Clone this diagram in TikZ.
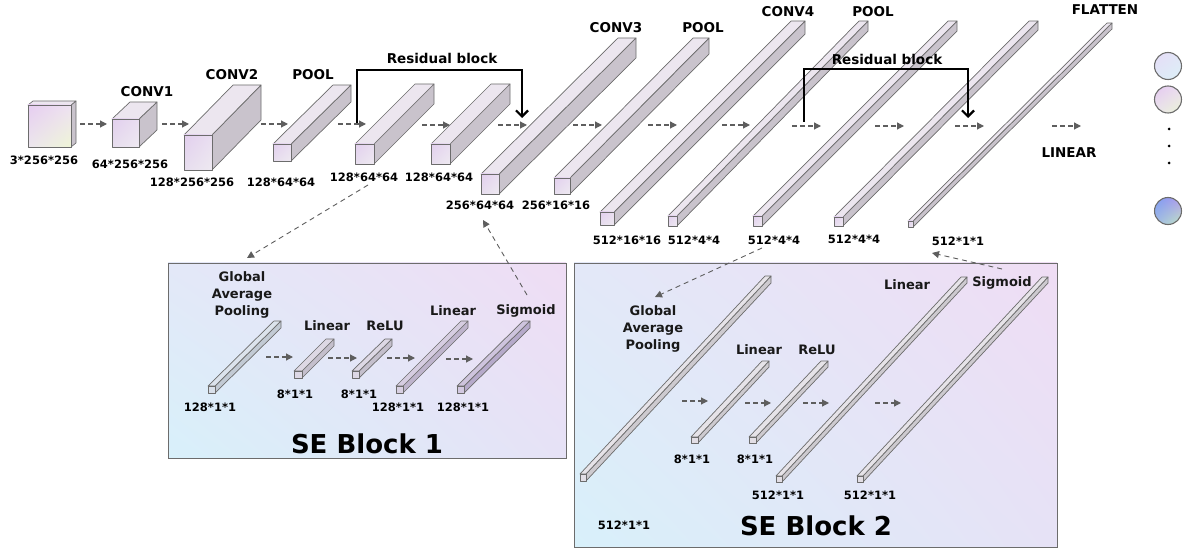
\documentclass[tikz,border=0pt]{standalone}
\usepackage{fontspec}
\setmainfont{DejaVu Sans}
\usetikzlibrary{arrows.meta,shadings}

\definecolor{edge}{HTML}{6C6C6C}
\definecolor{flowgray}{HTML}{5E5E5E}
\definecolor{topc}{HTML}{ECE6EF}
\definecolor{sidec}{HTML}{C9C3CC}
\definecolor{gapfront}{HTML}{D9E0EA}
\definecolor{gaptop}{HTML}{DCE3EC}
\definecolor{gapside}{HTML}{C2CAD4}
\definecolor{linfront}{HTML}{DDD8E5}
\definecolor{lintop}{HTML}{DDD8E4}
\definecolor{linside}{HTML}{C4BFCC}
\definecolor{purfront}{HTML}{D8D0E2}
\definecolor{purtop}{HTML}{D6CDE1}
\definecolor{purside}{HTML}{BEB4CC}
\definecolor{sigfront}{HTML}{D2C8E0}
\definecolor{sigtop}{HTML}{CEC4DD}
\definecolor{sigside}{HTML}{B6AACA}
\definecolor{greyfront}{HTML}{E2DEE5}
\definecolor{greytop}{HTML}{E6E3E8}
\definecolor{greyside}{HTML}{CDCACF}
% corner colours of the shaded faces
\definecolor{inUL}{HTML}{E6CDF0}
\definecolor{inUR}{HTML}{EEE2F2}
\definecolor{inLL}{HTML}{ECE6EE}
\definecolor{inLR}{HTML}{EEF5D6}
\definecolor{lavUL}{HTML}{E2CFEE}
\definecolor{lavUR}{HTML}{E9DEF0}
\definecolor{lavLL}{HTML}{E7DEEE}
\definecolor{lavLR}{HTML}{EEE9F1}
\definecolor{bgUL}{HTML}{E3E8F8}
\definecolor{bgUR}{HTML}{EFDDF4}
\definecolor{bgLL}{HTML}{D8F0FA}
\definecolor{bgLR}{HTML}{E6E2F6}
\definecolor{oaUL}{HTML}{E6DCF6}
\definecolor{oaUR}{HTML}{E2E6F8}
\definecolor{oaLL}{HTML}{DEE8F8}
\definecolor{oaLR}{HTML}{DCF0F6}
\definecolor{obUL}{HTML}{E4C8F0}
\definecolor{obUR}{HTML}{ECDDF2}
\definecolor{obLL}{HTML}{EAE4EC}
\definecolor{obLR}{HTML}{EAF4D4}
\definecolor{ocUL}{HTML}{7C9EF2}
\definecolor{ocUR}{HTML}{B49AEC}
\definecolor{ocLL}{HTML}{A2B8E6}
\definecolor{ocLR}{HTML}{BDE6C2}

\tikzset{
  facet/.style={draw=edge, line width=0.7pt, line join=round},
  corners/.style n args={4}{upper left=#1, upper right=#2, lower left=#3, lower right=#4},
  frontIn/.style={corners={inUL}{inUR}{inLL}{inLR}},
  frontLav/.style={corners={lavUL}{lavUR}{lavLL}{lavLR}},
  flatfront/.style={corners={#1}{#1}{#1}{#1}},
  lbl/.style={font=\bfseries\fontsize{13.5}{15}\selectfont, inner sep=0pt},
  dim/.style={font=\bfseries\fontsize{11.5}{13}\selectfont, inner sep=0pt},
  selbl/.style={font=\bfseries\fontsize{13}{17}\selectfont, inner sep=0pt, align=center, text=black!90},
  title/.style={font=\bfseries\fontsize{26}{28}\selectfont, inner sep=0pt},
  flow/.style={draw=flowgray, line width=1.2pt, dash pattern=on 4.5pt off 3.5pt, -{Triangle[length=7pt,width=7pt]}},
  skip/.style={draw=black, line width=2.2pt, line join=miter, -{Straight Barb[length=6pt,width=12pt]}},
  link/.style={draw=flowgray, line width=0.9pt, dash pattern=on 5pt off 4pt, -{Triangle[length=7pt,width=7pt]}},
  dot/.style={circle, fill=black, inner sep=0pt, minimum size=3pt},
}

% cuboid: front face (#1,#2)-(#3,#4), depth offset #5 right and #6 up,
% #7 front shading style, #8 top colour, #9 side colour
\newcommand\prism[9]{%
  \filldraw[fill=#9, facet] (#3,#2) -- (#3+#5,#2-#6) -- (#3+#5,#4-#6) -- (#3,#4) -- cycle;
  \filldraw[fill=#8, facet] (#1,#2) -- (#1+#5,#2-#6) -- (#3+#5,#2-#6) -- (#3,#2) -- cycle;
  \shade[#7] (#1,#2) rectangle (#3,#4);
  \draw[facet] (#1,#2) rectangle (#3,#4);
}

\begin{document}
\begin{tikzpicture}[x=1pt, y=-1pt]
\useasboundingbox (0,0) rectangle (1184,548);

% ---------- main network ----------
\prism{28}{105}{71}{147}{5}{4}{frontIn}{topc}{sidec}
\prism{112}{119}{139}{147}{18}{17}{frontLav}{topc}{sidec}
\prism{184}{135}{212}{170}{49}{50}{frontLav}{topc}{sidec}
\prism{273}{144}{291}{161}{60}{59}{frontLav}{topc}{sidec}
\prism{355}{144}{374}{164}{60}{60}{frontLav}{topc}{sidec}
\prism{431}{144}{450}{164}{60}{60}{frontLav}{topc}{sidec}
\prism{481}{174}{499}{194}{137}{136}{frontLav}{topc}{sidec}
\prism{554}{178}{570}{194}{139}{140}{frontLav}{topc}{sidec}
\prism{600}{212}{614}{225}{191}{191}{frontLav}{topc}{sidec}
\prism{668}{216}{677}{226}{191}{195}{frontLav}{topc}{sidec}
\prism{753}{216}{762}{226}{195}{195}{frontLav}{topc}{sidec}
\prism{834}{217}{843}{226}{195}{196}{frontLav}{topc}{sidec}
\prism{908}{221}{913}{227}{199}{198}{frontLav}{topc}{sidec}

% flow arrows between the stages
\foreach \i/\xa/\xb/\yy in {1/80/107/124, 2/162/189/124, 3/261/288/124, 4/338/366/124,
    5/422/450/125, 6/498/527/125, 7/573/602/125, 8/648/677/125, 9/722/750/125,
    10/792/821/126, 11/875/904/126, 12/955/984/126, 13/1052/1081/126} {
  \coordinate (f\i s) at (\xa,\yy);
  \coordinate (f\i e) at (\xb,\yy);
  \draw[flow] (f\i s) -- (f\i e);
}

% layer names
\node[lbl] (nconv1) at (147,92) {CONV1};
\node[lbl] (nconv2) at (232,75) {CONV2};
\node[lbl] (npool1) at (313,75) {POOL};
\node[lbl] (nconv3) at (616,28) {CONV3};
\node[lbl] (npool2) at (703,28) {POOL};
\node[lbl] (nconv4) at (788,12) {CONV4};
\node[lbl] (npool3) at (873,12) {POOL};
\node[lbl] (nflat) at (1105,10) {FLATTEN};
\node[lbl] (nlin) at (1069,153) {LINEAR};

% tensor sizes
\node[dim] (d1) at (44,160) {3*256*256};
\node[dim] (d2) at (130,164) {64*256*256};
\node[dim] (d3) at (192,182) {128*256*256};
\node[dim] (d4) at (281,182) {128*64*64};
\node[dim] (d5) at (364,177) {128*64*64};
\node[dim] (d6) at (439,177) {128*64*64};
\node[dim] (d7) at (480,205) {256*64*64};
\node[dim] (d8) at (556,205) {256*16*16};
\node[dim] (d9) at (627,240) {512*16*16};
\node[dim] (d10) at (694,240) {512*4*4};
\node[dim] (d11) at (774,240) {512*4*4};
\node[dim] (d12) at (854,239) {512*4*4};
\node[dim] (d13) at (958,241) {512*1*1};

% residual shortcuts
\coordinate (r1a) at (357,123);
\coordinate (r1b) at (522,118);
\draw[skip] (r1a) |- (440,70) -| (r1b);
\node[lbl] (nres1) at (442,58) {Residual block};
\coordinate (r2a) at (804,122);
\coordinate (r2b) at (968,118);
\draw[skip] (r2a) |- (886,69) -| (r2b);
\node[lbl] (nres2) at (887,59) {Residual block};

% output units
\shade[corners={oaUL}{oaUR}{oaLL}{oaLR}] (1168,66) circle[radius=13.5pt];
\draw[facet, line width=1.1pt] (1168,66) circle[radius=13.5pt] node (o1) {};
\shade[corners={obUL}{obUR}{obLL}{obLR}] (1168,99.5) circle[radius=13.5pt];
\draw[facet, line width=1.1pt] (1168,99.5) circle[radius=13.5pt] node (o2) {};
\node[dot] (p1) at (1169,129) {};
\node[dot] (p2) at (1169,146) {};
\node[dot] (p3) at (1169,163) {};
\shade[corners={ocUL}{ocUR}{ocLL}{ocLR}] (1168,211) circle[radius=13.5pt];
\draw[facet, line width=1.1pt] (1168,211) circle[radius=13.5pt] node (o3) {};

% ---------- SE block 1 ----------
\shade[corners={bgUL}{bgUR}{bgLL}{bgLR}] (168,263) rectangle (566,458);
\draw[draw=edge, line width=0.9pt] (168,263) rectangle (566,458);

\prism{208}{386}{215}{393}{66}{65}{flatfront=gapfront}{gaptop}{gapside}
\prism{294}{371}{302}{378}{32}{32}{flatfront=linfront}{lintop}{linside}
\prism{352}{371}{359}{378}{33}{32}{flatfront=linfront}{lintop}{linside}
\prism{396}{386}{403}{393}{65}{65}{flatfront=purfront}{purtop}{purside}
\prism{457}{386}{464}{393}{66}{65}{flatfront=sigfront}{sigtop}{sigside}

\foreach \i/\xa/\xb/\yy in {1/266/293/357, 2/328/357/358, 3/387/415/358, 4/446/473/359} {
  \coordinate (s\i s) at (\xa,\yy);
  \coordinate (s\i e) at (\xb,\yy);
  \draw[flow] (s\i s) -- (s\i e);
}

\node[selbl] (ga1) at (242,295) {Global\\Average\\Pooling};
\node[selbl] (li1) at (327,326) {Linear};
\node[selbl] (re1) at (385,326) {ReLU};
\node[selbl] (lj1) at (453,311) {Linear};
\node[selbl] (sg1) at (526,311) {Sigmoid};
\node[dim] (e1) at (210,407) {128*1*1};
\node[dim] (e2) at (295,394) {8*1*1};
\node[dim] (e3) at (359,394) {8*1*1};
\node[dim] (e4) at (398,407) {128*1*1};
\node[dim] (e5) at (463,407) {128*1*1};
\node[title] (t1) at (367,444) {SE Block 1};

% ---------- SE block 2 ----------
\shade[corners={bgUL}{bgUR}{bgLL}{bgLR}] (574,263) rectangle (1057,547);
\draw[draw=edge, line width=0.9pt] (574,263) rectangle (1057,547);

\prism{580}{474}{586}{481}{185}{198}{flatfront=greyfront}{greytop}{greyside}
\prism{691}{437}{698}{443}{71}{76}{flatfront=greyfront}{greytop}{greyside}
\prism{749}{437}{756}{443}{72}{76}{flatfront=greyfront}{greytop}{greyside}
\prism{776}{476}{782}{482}{185}{199}{flatfront=greyfront}{greytop}{greyside}
\prism{857}{476}{863}{482}{185}{199}{flatfront=greyfront}{greytop}{greyside}

\foreach \i/\xa/\xb/\yy in {1/682/708/401, 2/745/771/403, 3/803/829/403, 4/875/901/403} {
  \coordinate (u\i s) at (\xa,\yy);
  \coordinate (u\i e) at (\xb,\yy);
  \draw[flow] (u\i s) -- (u\i e);
}

\node[selbl] (ga2) at (653,329) {Global\\Average\\Pooling};
\node[selbl] (li2) at (759,350) {Linear};
\node[selbl] (re2) at (817,350) {ReLU};
\node[selbl] (lj2) at (907,285) {Linear};
\node[selbl] (sg2) at (1002,283) {Sigmoid};
\node[dim] (g1) at (624,525) {512*1*1};
\node[dim] (g2) at (692,459) {8*1*1};
\node[dim] (g3) at (755,459) {8*1*1};
\node[dim] (g4) at (778,495) {512*1*1};
\node[dim] (g5) at (870,495) {512*1*1};
\node[title] (t2) at (816,526) {SE Block 2};

% ---------- links between the network and the SE blocks ----------
\coordinate (k1s) at (368,185);
\coordinate (k1e) at (247,258);
\draw[link] (k1s) -- (k1e);
\coordinate (k2s) at (527,295);
\coordinate (k2e) at (483,220);
\draw[link] (k2s) -- (k2e);
\coordinate (k3s) at (762,248);
\coordinate (k3e) at (655,297);
\draw[link] (k3s) -- (k3e);
\coordinate (k4s) at (1002,269);
\coordinate (k4e) at (932,253);
\draw[link] (k4s) -- (k4e);
\end{tikzpicture}
\end{document}
